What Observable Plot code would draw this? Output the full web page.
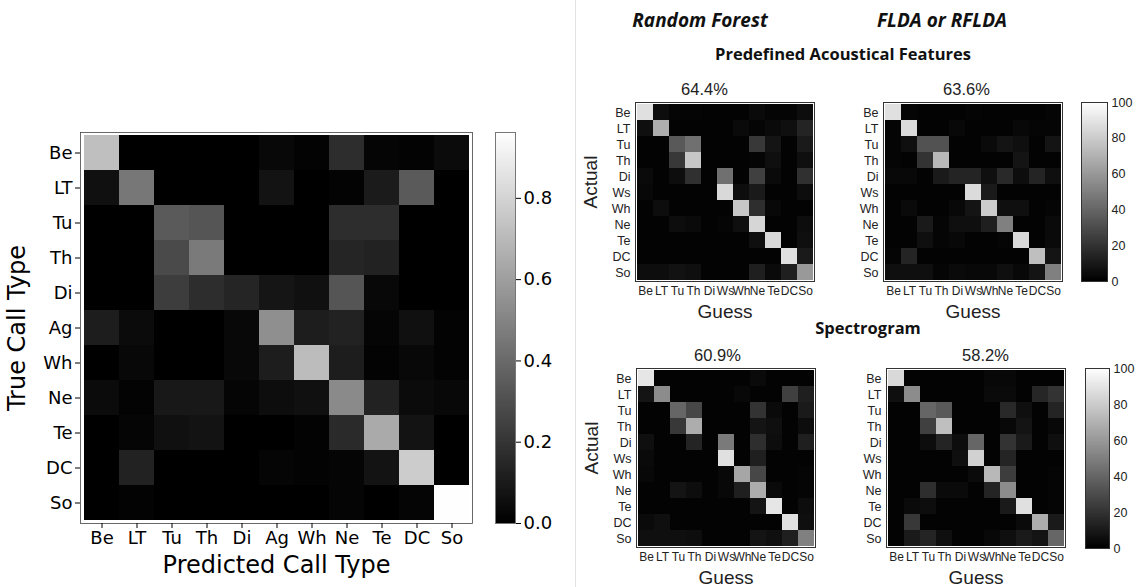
<!DOCTYPE html>
<html><head><meta charset="utf-8">
<script src="https://cdn.jsdelivr.net/npm/d3@7"></script>
<script src="https://cdn.jsdelivr.net/npm/@observablehq/plot@0.6"></script>
<style>
html,body{margin:0;padding:0;background:#fff;}
#root{position:relative;width:1140px;height:587px;overflow:hidden;background:#fff;}
#root svg{position:absolute;overflow:visible;}
.ttl{position:absolute;font-family:"Open Sans",sans-serif;font-weight:700;white-space:nowrap;transform:translateX(-50%);color:#111;line-height:1;}
.divider{position:absolute;left:575px;top:0;width:1px;height:587px;background:#e3e3e3;}
</style></head><body><div id="root"><div class="divider"></div></div>
<script>
// ---------- Left panel data ----------
const leftCats = ["Be","LT","Tu","Th","Di","Ag","Wh","Ne","Te","DC","So"];
const leftMatrix = [
 [0.72,0.00,0.00,0.00,0.00,0.03,0.01,0.17,0.02,0.01,0.04],
 [0.06,0.45,0.00,0.00,0.00,0.07,0.00,0.01,0.10,0.34,0.00],
 [0.00,0.00,0.34,0.32,0.00,0.00,0.00,0.17,0.17,0.00,0.00],
 [0.00,0.00,0.28,0.46,0.00,0.00,0.00,0.14,0.13,0.00,0.00],
 [0.00,0.00,0.23,0.17,0.14,0.08,0.06,0.32,0.03,0.00,0.00],
 [0.11,0.04,0.00,0.00,0.03,0.54,0.11,0.13,0.02,0.06,0.01],
 [0.00,0.03,0.00,0.00,0.03,0.11,0.71,0.11,0.01,0.03,0.01],
 [0.04,0.01,0.09,0.09,0.02,0.05,0.06,0.52,0.13,0.04,0.03],
 [0.00,0.02,0.06,0.07,0.00,0.00,0.01,0.16,0.64,0.07,0.00],
 [0.00,0.13,0.00,0.00,0.00,0.02,0.01,0.02,0.07,0.77,0.00],
 [0.00,0.01,0.00,0.00,0.00,0.00,0.00,0.02,0.00,0.02,0.96]
];
const leftColorTicks = [0, 0.2, 0.4, 0.6, 0.8];
const leftColorMax = 0.962;

// ---------- Right panel data ----------
const rightCats = ["Be","LT","Tu","Th","Di","Ws","Wh","Ne","Te","DC","So"];
const rfPredefined = [
 [88,5,2,2,1,1,1,4,2,2,5],
 [6,68,1,1,1,1,4,2,4,6,14],
 [1,1,35,44,1,1,1,22,8,1,10],
 [1,1,22,78,1,1,1,2,6,1,6],
 [4,1,5,19,1,44,1,25,4,1,19],
 [3,1,1,1,1,85,5,10,1,1,5],
 [1,5,1,1,1,1,78,18,3,1,1],
 [1,1,5,4,1,2,6,84,1,1,5],
 [1,1,1,1,1,1,1,6,85,1,6],
 [1,1,1,1,1,1,1,1,1,88,10],
 [5,5,7,6,1,1,1,12,4,12,60]
];
const fldaPredefined = [
 [88,2,1,1,1,2,1,1,1,1,2],
 [2,86,1,1,3,1,1,1,3,2,2],
 [2,6,32,32,1,1,4,8,6,1,8],
 [2,1,20,72,1,1,1,1,8,1,1],
 [3,3,1,10,14,14,6,16,5,14,6],
 [1,1,1,1,1,86,10,1,1,1,1],
 [1,4,1,1,3,8,80,6,6,1,2],
 [1,1,10,2,6,6,12,50,1,1,4],
 [1,1,6,2,3,1,1,2,85,1,4],
 [2,14,1,1,1,1,1,1,1,75,8],
 [6,6,6,2,4,3,3,6,3,8,50]
];
const rfSpectrogram = [
 [90,1,1,1,1,1,1,4,1,1,1],
 [8,55,1,1,1,1,3,1,1,25,12],
 [1,1,40,28,1,1,1,20,4,1,10],
 [1,1,22,68,1,1,1,8,6,1,5],
 [6,1,1,14,1,48,1,18,5,1,12],
 [4,1,1,1,1,88,1,12,1,1,1],
 [3,1,1,1,1,3,65,28,1,1,2],
 [1,1,8,5,1,3,12,68,4,1,2],
 [1,1,1,1,1,1,1,8,90,1,5],
 [4,6,1,1,1,1,1,1,1,88,6],
 [6,6,6,5,1,1,1,8,6,12,50]
];
const fldaSpectrogram = [
 [85,1,1,1,1,1,3,3,1,1,1],
 [6,55,1,1,1,1,4,4,1,15,20],
 [1,1,40,35,1,1,1,16,6,1,14],
 [1,1,25,75,1,1,1,3,8,1,3],
 [1,1,5,14,5,40,1,20,10,1,6],
 [1,1,1,1,6,82,1,14,1,1,1],
 [1,1,1,1,1,4,72,24,1,1,2],
 [1,1,18,4,4,1,14,55,1,1,2],
 [1,4,5,1,1,1,1,10,88,1,2],
 [1,22,1,1,1,1,1,1,4,68,10],
 [1,10,14,6,1,1,3,6,10,8,40]
];
const accuracies = ["64.4%","63.6%","60.9%","58.2%"];
const rightColorTicks = [0,20,40,60,80,100];

const root = document.getElementById("root");
function place(svg, left, top){ svg.style.left = left+"px"; svg.style.top = top+"px"; root.appendChild(svg); }
function toCells(matrix, cats){
  const out = [];
  matrix.forEach((row,i)=>row.forEach((v,j)=>out.push({t:cats[i], p:cats[j], v})));
  return out;
}

// ---------- Left main heatmap ----------
const dv = "'DejaVu Sans', sans-serif";
const mainColor = {type:"linear", domain:[0, leftColorMax], range:["#000","#fff"], interpolate:"rgb"};
{
  const mL=80, mR=4, mT=132, mB=64, W=392, H=391;
  const svg = Plot.plot({
    width:mL+W+mR, height:mT+H+mB, marginLeft:mL, marginRight:mR, marginTop:mT, marginBottom:mB,
    x:{domain:leftCats, padding:0, axis:null},
    y:{domain:leftCats, padding:0, axis:null},
    color:mainColor,
    style:{fontFamily:dv, fontSize:"18px", background:"transparent", color:"#000"},
    marks:[
      Plot.cell(toCells(leftMatrix,leftCats), {x:"p", y:"t", fill:"v", inset:0, shapeRendering:"crispEdges"}),
      Plot.frame({stroke:"#444", strokeWidth:0.8}),
      Plot.axisX({tickSize:5, tickPadding:3, fontSize:18, label:null}),
      Plot.axisY({tickSize:5, tickPadding:3, fontSize:18, label:null}),
      Plot.text(["Predicted Call Type"], {frameAnchor:"bottom", lineAnchor:"middle", textAnchor:"middle", dy:42, text:d=>d, fontSize:24}),
      Plot.text(["True Call Type"], {frameAnchor:"left", lineAnchor:"middle", textAnchor:"middle", dx:-63, rotate:-90, text:d=>d, fontSize:24})
    ]
  });
  place(svg, 0, 0);
}
// ---------- Left colorbar ----------
{
  const mL=1, mR=50, mT=132, mB=64, W=20, H=391;
  const step = leftColorMax/300;
  const ramp = d3.range(0, leftColorMax, step);
  const svg = Plot.plot({
    width:mL+W+mR, height:mT+H+mB, marginLeft:mL, marginRight:mR, marginTop:mT, marginBottom:mB,
    x:{domain:[0,1], axis:null},
    y:{domain:[0, leftColorMax], axis:null},
    color:mainColor,
    style:{fontFamily:dv, fontSize:"18px", background:"transparent", color:"#000"},
    marks:[
      Plot.rect(ramp, {x1:0, x2:1, y1:d=>d, y2:d=>d+step*1.01, fill:d=>d, shapeRendering:"crispEdges"}),
      Plot.frame({stroke:"#777"}),
      Plot.axisY({anchor:"right", ticks:leftColorTicks, tickFormat:d3.format(".1f"), tickSize:5, tickPadding:3, fontSize:18, label:null})
    ]
  });
  place(svg, 495-mL, 0);
}

// ---------- Right small matrices ----------
const ls = "'Liberation Sans', Arial, sans-serif";
const rightColor = {type:"linear", domain:[0,100], range:["#000","#fff"], interpolate:"rgb"};
function smallMatrix(matrix, {left, top, pct, pctCenter, actual}){
  const mL=60, mR=8, mT=30, mB=45, W=179, H=179;
  const marks = [
    Plot.cell(toCells(matrix,rightCats), {x:"p", y:"t", fill:"v", inset:0, shapeRendering:"crispEdges"}),
    Plot.frame({stroke:"#333"}),
    Plot.axisX({tickSize:0, tickPadding:5, fontSize:12, label:null}),
    Plot.axisY({tickSize:0, tickPadding:5, fontSize:12.5, label:null}),
    Plot.text([pct], {frameAnchor:"top", lineAnchor:"middle", dy:-13, dx:pctCenter-(left+W/2), text:d=>d, fontSize:16.5}),
    Plot.text(["Guess"], {frameAnchor:"bottom", lineAnchor:"middle", dy:30, text:d=>d, fontSize:19})
  ];
  if (actual) marks.push(Plot.text(["Actual"], {frameAnchor:"left", lineAnchor:"middle", textAnchor:"middle", dx:-45, dy:-10, rotate:-90, text:d=>d, fontSize:19}));
  const svg = Plot.plot({
    width:mL+W+mR, height:mT+H+mB, marginLeft:mL, marginRight:mR, marginTop:mT, marginBottom:mB,
    x:{domain:rightCats, padding:0, axis:null},
    y:{domain:rightCats, padding:0, axis:null},
    color:rightColor,
    style:{fontFamily:ls, fontSize:"12.5px", background:"transparent", color:"#222"},
    marks
  });
  place(svg, left-mL, top-mT);
}
function smallColorbar(left, top, W, H){
  const mL=1, mR=35, mT=10, mB=10;
  const ramp = d3.range(0, 100, 0.5);
  const svg = Plot.plot({
    width:mL+W+mR, height:mT+H+mB, marginLeft:mL, marginRight:mR, marginTop:mT, marginBottom:mB,
    x:{domain:[0,1], axis:null},
    y:{domain:[0,100], axis:null},
    color:rightColor,
    style:{fontFamily:ls, fontSize:"12.5px", background:"transparent", color:"#222"},
    marks:[
      Plot.rect(ramp, {x1:0, x2:1, y1:d=>d, y2:d=>d+0.51, fill:d=>d, shapeRendering:"crispEdges"}),
      Plot.frame({stroke:"#333"}),
      Plot.axisY({anchor:"right", ticks:rightColorTicks, tickSize:0, tickPadding:4, fontSize:12.5, label:null})
    ]
  });
  place(svg, left-mL, top-mT);
}
smallMatrix(rfPredefined,   {left:635, top:102, pct:accuracies[0], pctCenter:704, actual:true});
smallMatrix(fldaPredefined, {left:883, top:102, pct:accuracies[1], pctCenter:966, actual:false});
smallMatrix(rfSpectrogram,  {left:636, top:368, pct:accuracies[2], pctCenter:717, actual:true});
smallMatrix(fldaSpectrogram,{left:886, top:368, pct:accuracies[3], pctCenter:985, actual:false});
smallColorbar(1081, 102, 26, 179);
smallColorbar(1085, 368, 24, 180);

// ---------- Titles ----------
function title(text, cx, top, size, italic){
  const d = document.createElement("div");
  d.className = "ttl"; d.textContent = text;
  d.style.left = cx+"px"; d.style.top = top+"px"; d.style.fontSize = size+"px";
  if (italic) d.style.fontStyle = "italic";
  root.appendChild(d);
}
title("Random Forest", 700, 11, 19, true);
title("FLDA or RFLDA", 942, 11, 19, true);
title("Predefined Acoustical Features", 843, 46, 16.5, false);
title("Spectrogram", 868, 320, 16.5, false);
</script></body></html>
